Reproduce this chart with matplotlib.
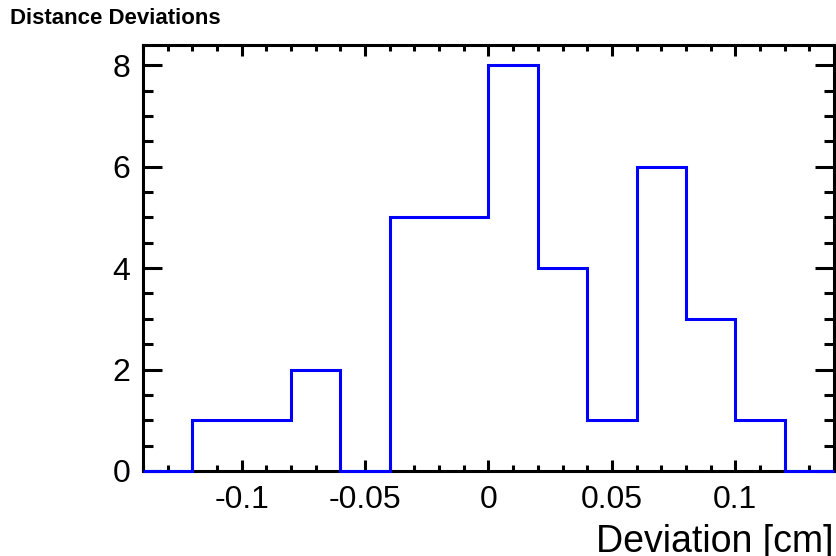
import matplotlib.pyplot as plt
import numpy as np
from matplotlib.ticker import MultipleLocator

plt.rcParams['font.family'] = ['Liberation Sans', 'DejaVu Sans']

# histogram bins and counts
bin_edges = [-0.14, -0.12, -0.10, -0.08, -0.06, -0.04, -0.02, 0.0,
             0.02, 0.04, 0.06, 0.08, 0.10, 0.12, 0.14]
counts = [0, 1, 1, 2, 0, 5, 5, 8, 4, 1, 6, 3, 1, 0]

fig = plt.figure(figsize=(8.36, 5.56), dpi=100)
ax = fig.add_axes([0.171, 0.153, 0.8266, 0.766])

ax.stairs(counts, bin_edges, color='#0000ff', linewidth=2.2, zorder=3, clip_on=False)

ax.set_xlim(-0.14, 0.14)
ax.set_ylim(0, 8.4)

ax.set_xticks([-0.1, -0.05, 0, 0.05, 0.1])
ax.set_xticklabels(['-0.1', '-0.05', '0', '0.05', '0.1'])
ax.xaxis.set_minor_locator(MultipleLocator(0.01))
ax.yaxis.set_major_locator(MultipleLocator(2))
ax.yaxis.set_minor_locator(MultipleLocator(0.5))

for s in ax.spines.values():
    s.set_linewidth(2.2)

ax.tick_params(axis='both', which='both', direction='in', top=True, right=True,
               width=2.2, labelsize=23)
ax.tick_params(axis='x', which='major', length=8, pad=10)
ax.tick_params(axis='x', which='minor', length=4)
ax.tick_params(axis='y', which='major', length=14, pad=9)
ax.tick_params(axis='y', which='minor', length=7)

ax.set_xlabel('Deviation [cm]', fontsize=27, ha='right', va='top')
ax.xaxis.set_label_coords(1.0, -0.125)

fig.text(0.012, 0.966, 'Distance Deviations', fontsize=16, fontweight='bold',
         ha='left', va='center')

fig.savefig('out.png', dpi=100)
